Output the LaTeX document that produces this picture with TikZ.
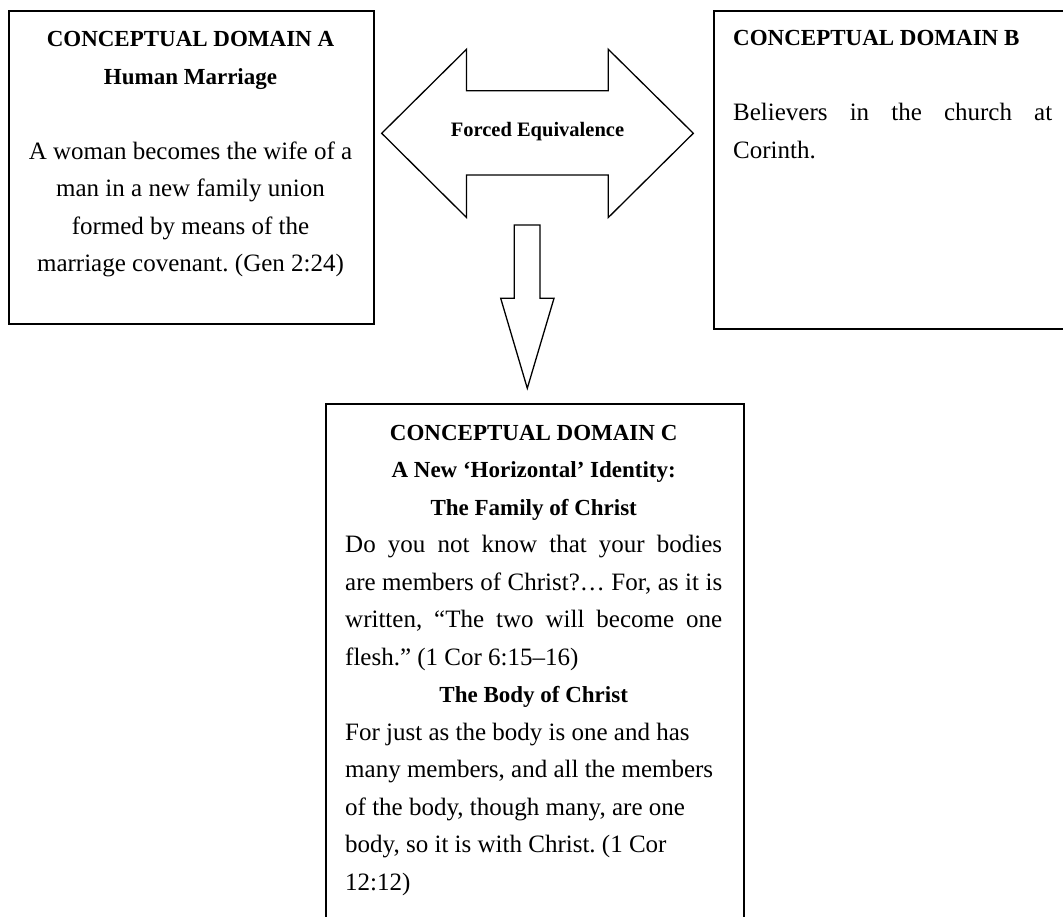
\documentclass[tikz,border=0pt]{standalone}
\usepackage{fontspec}
\setmainfont{Liberation Serif}
% font switches; the interword spacing is reset to the font's own glue
\newcommand\headfnt{\fontsize{23}{37.5}\selectfont\bfseries\spaceskip=0pt\xspaceskip=0pt\relax}
\newcommand\bodyfnt{\fontsize{25}{37.5}\selectfont\mdseries\spaceskip=0pt\xspaceskip=0pt\relax}
% one line of a text block: centred, flush left, or spread to the full width
\newcommand\midrow[1]{\makebox[\linewidth]{#1}}
\newcommand\leftrow[1]{\makebox[\linewidth][l]{#1}}
\newcommand\fullrow[1]{\makebox[\linewidth][s]{#1}}
\begin{document}
\frenchspacing
\begin{tikzpicture}[x=1pt,y=-1pt,
  frame/.style={draw=black, line width=2pt, inner sep=0pt, anchor=north west},
  blockarrow/.style={draw=black, line width=1.3pt, fill=white, line join=miter},
  boxtext/.style={inner sep=0pt, anchor=north west, align=left},
  arrowlabel/.style={font=\fontsize{20.5}{24}\selectfont\bfseries, anchor=base, inner sep=0pt}]
\clip (0,0) rectangle (1063,916);

% the three domain frames
\node[frame, minimum width=365pt, minimum height=313.8pt] (domA) at (8,9.5) {};
\node[frame, minimum width=367pt, minimum height=318.8pt] (domB) at (713,9.5) {};
\node[frame, minimum width=418pt, minimum height=537pt] (domC) at (325,403) {};

% texts of the domains
\node[boxtext, anchor=north, text width=355pt] (txtA) at (190.5,20.45) {%
  \headfnt\strut\midrow{CONCEPTUAL DOMAIN A}\\
  \midrow{Human Marriage}\\[37.5pt]
  \bodyfnt\midrow{A woman becomes the wife of a}\\
  \midrow{man in a new family union}\\
  \midrow{formed by means of the}\\
  \midrow{marriage covenant. (Gen 2:24)}\par};

\node[boxtext, text width=319pt] (txtB) at (733,19.25) {%
  \headfnt\strut\leftrow{CONCEPTUAL DOMAIN B}\\[37.5pt]
  \bodyfnt\fullrow{Believers in the church at}\\
  \leftrow{Corinth.}\par};

\node[boxtext, text width=377pt] (txtC) at (345,413.75) {%
  \headfnt\strut\midrow{CONCEPTUAL DOMAIN C}\\
  \midrow{A New ‘Horizontal’ Identity:}\\
  \midrow{The Family of Christ}\\
  \bodyfnt\fullrow{Do you not know that your bodies}\\
  \fullrow{are members of Christ?… For, as it is}\\
  \fullrow{written, “The two will become one}\\
  \leftrow{flesh.” (1 Cor 6:15–16)}\\
  \headfnt\midrow{The Body of Christ}\\
  \bodyfnt\leftrow{For just as the body is one and has}\\
  \leftrow{many members, and all the members}\\
  \leftrow{of the body, though many, are one}\\
  \leftrow{body, so it is with Christ. (1 Cor}\\
  \leftrow{12:12)}\par};

% double block arrow between domains A and B
\coordinate (lt) at (381.7,133.3);
\coordinate (rt) at (693.3,133.3);
\draw[blockarrow] (lt) -- (466.5,49.3) -- (466.5,90.7) -- (608.3,90.7) -- (608.3,49.3)
  -- (rt) -- (608.3,217.5) -- (608.3,175) -- (466.5,175) -- (466.5,217.5) -- cycle;
\node[arrowlabel] (forced) at (537.5,136.5) {Forced Equivalence};

% block arrow down to domain C
\coordinate (dtip) at (527.3,388.3);
\draw[blockarrow] (514.3,225) -- (540,225) -- (540,298.3) -- (554,298.3) -- (dtip)
  -- (500.7,298.3) -- (514.3,298.3) -- cycle;
\end{tikzpicture}
\end{document}
